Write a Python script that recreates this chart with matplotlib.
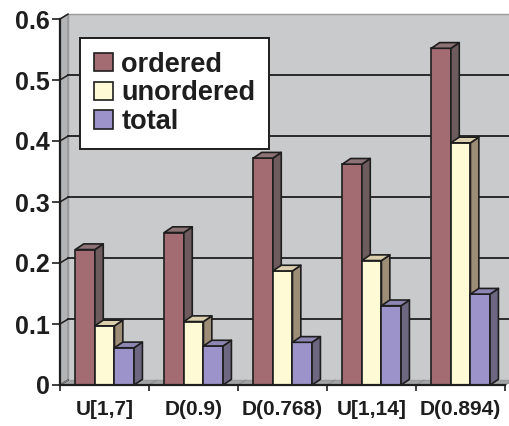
import matplotlib.pyplot as plt
from matplotlib.patches import Polygon, Patch

categories = ["U[1,7]", "D(0.9)", "D(0.768)", "U[1,14]", "D(0.894)"]
ordered = [0.222, 0.250, 0.372, 0.362, 0.552]
unordered = [0.097, 0.104, 0.187, 0.204, 0.397]
total = [0.061, 0.064, 0.070, 0.130, 0.149]
series_names = ["ordered", "unordered", "total"]
yticks = [0, 0.1, 0.2, 0.3, 0.4, 0.5, 0.6]
ytick_labels = ["0", "0.1", "0.2", "0.3", "0.4", "0.5", "0.6"]

# front, side, top shades for each series
shades = [
    ("#a36c73", "#6d5b5d", "#8e7376"),
    ("#fffad6", "#9d8c76", "#dccfae"),
    ("#9b93c9", "#6e6781", "#8d86b2"),
]

plt.rcParams["font.family"] = ["Liberation Sans", "DejaVu Sans"]
plt.rcParams["font.weight"] = "bold"
ink = "#1e1e1e"

fig = plt.figure(figsize=(5.1, 4.26), dpi=100)
W, H = 510, 426
ax = fig.add_axes([60 / W, 41 / H, 445 / W, 366 / H])
ax.set_xlim(0, 5)
ax.set_ylim(0, 0.6)

# depth of the box (walls) and of the bars, in data units
wdx, wdy = 0.09, 0.008
bdx, bdy = 0.094, 0.0093

# side wall, floor and back wall
ax.add_patch(Polygon([(0, 0), (wdx, wdy), (wdx, 0.6 + wdy), (0, 0.6)],
                     closed=True, facecolor="#b3b4b6", edgecolor="#8e8e8e",
                     lw=0.8, zorder=0, clip_on=False))
ax.add_patch(Polygon([(0, 0), (5, 0), (5 + wdx, wdy), (wdx, wdy)],
                     closed=True, facecolor="#a3a4a6", edgecolor="#8e8e8e",
                     lw=0.8, zorder=0, clip_on=False))
ax.add_patch(Polygon([(wdx, wdy), (5 + wdx, wdy), (5 + wdx, 0.6 + wdy), (wdx, 0.6 + wdy)],
                     closed=True, facecolor="#c9cacc", edgecolor="#9a9a9a",
                     lw=1.0, zorder=0, clip_on=False))

# gridlines on the back wall and the little diagonals from the ticks
for v in yticks:
    if 0 < v < 0.6:
        ax.plot([wdx, 5 + wdx], [v + wdy, v + wdy], color=ink, lw=1.3,
                zorder=0.5, clip_on=False)
    ax.plot([0, wdx], [v, v + wdy], color=ink, lw=1.1, zorder=0.5, clip_on=False)
for k in range(6):
    ax.plot([k, k + wdx], [0, wdy], color="#8e8e8e", lw=0.8, zorder=0.5, clip_on=False)

bar_w = 0.22
start = 0.172
lw = 1.2

def draw_bar(x0, h, front, side, top):
    ax.bar(x0, h, width=bar_w, align="edge", color=front, edgecolor=ink,
           lw=lw, zorder=2)
    x1 = x0 + bar_w
    ax.add_patch(Polygon([(x1, 0), (x1 + bdx, bdy), (x1 + bdx, h + bdy), (x1, h)],
                         closed=True, facecolor=side, edgecolor=ink, lw=lw,
                         zorder=2, joinstyle="round"))
    ax.add_patch(Polygon([(x0, h), (x0 + bdx, h + bdy), (x1 + bdx, h + bdy), (x1, h)],
                         closed=True, facecolor=top, edgecolor=ink, lw=lw,
                         zorder=2, joinstyle="round"))

for i in range(len(categories)):
    for s, vals in enumerate([ordered, unordered, total]):
        f, sd, tp = shades[s]
        draw_bar(i + start + s * bar_w, vals[i], f, sd, tp)

# axes
for side in ["top", "right"]:
    ax.spines[side].set_visible(False)
ax.spines["left"].set_color(ink)
ax.spines["left"].set_linewidth(1.6)
ax.spines["bottom"].set_color(ink)
ax.spines["bottom"].set_linewidth(1.6)
ax.spines["left"].set_zorder(3)
ax.spines["bottom"].set_zorder(3)

ax.set_yticks(yticks)
ax.set_yticklabels(ytick_labels, fontsize=18, fontweight="bold", color=ink)
ax.tick_params(axis="y", direction="out", length=6, width=1.2, pad=1.5, colors=ink)

ax.set_xticks([i + 0.5 for i in range(len(categories))])
ax.set_xticklabels(categories, fontsize=15, fontweight="bold", color=ink)
ax.set_xticks(range(6), minor=True)
ax.tick_params(axis="x", which="major", length=0, pad=11)
ax.tick_params(axis="x", which="minor", direction="out", length=4.5, width=1.2,
               colors=ink)

handles = [Patch(facecolor=shades[s][0], edgecolor=ink, lw=1.2) for s in range(3)]
leg = ax.legend(handles, series_names, loc="upper left",
                bbox_to_anchor=(80 / W, 1 - 38 / H), bbox_transform=fig.transFigure,
                prop={"family": "Liberation Sans", "weight": "bold", "size": 19.5},
                frameon=True, fancybox=False, framealpha=1, borderaxespad=0,
                borderpad=0.5, handlelength=0.72, handleheight=0.66,
                handletextpad=0.3, labelspacing=0.1)
leg.get_frame().set_edgecolor(ink)
leg.get_frame().set_linewidth(1.4)
leg.get_frame().set_facecolor("white")
leg.set_zorder(5)
for t in leg.get_texts():
    t.set_color(ink)

fig.savefig("out.png", dpi=100)
